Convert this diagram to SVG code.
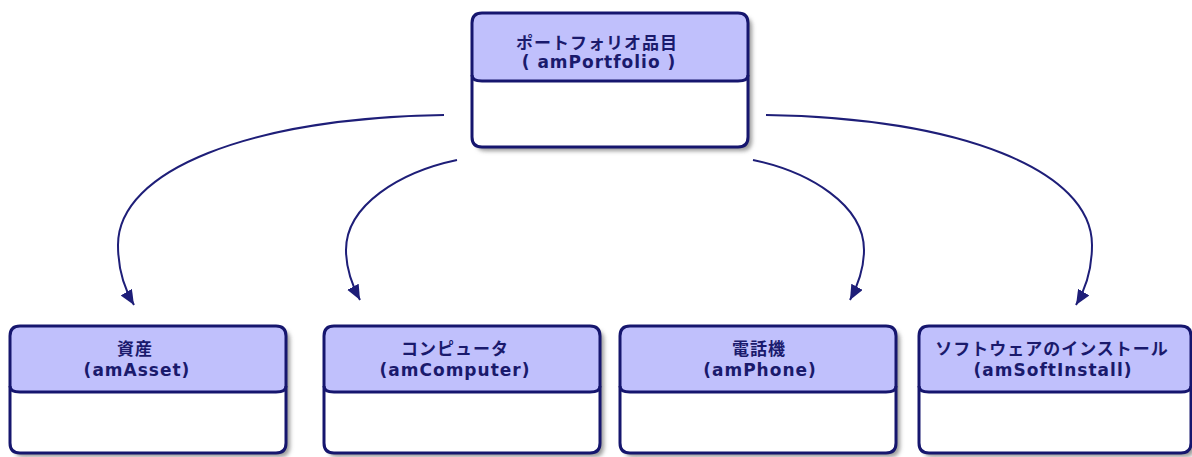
<svg xmlns="http://www.w3.org/2000/svg" width="1192" height="457" viewBox="0 0 1192 457">
  <style>
    .bg { fill: #ffffff; filter: url(#shadow); }
    .hdr { fill: #c0c0fc; }
    .line { fill: none; stroke: #16166e; stroke-width: 3; stroke-linejoin: round; }
    .t { font-family: "DejaVu Sans", "Noto Sans CJK JP", sans-serif; font-size: 17px; font-weight: bold; fill: #1a1a6c; text-anchor: middle; letter-spacing: 1px; }
    .conn { fill: none; stroke: #1e1e78; stroke-width: 2; marker-end: url(#arrow); }
  </style>
  <defs>
    <filter id="shadow" x="-10%" y="-10%" width="130%" height="130%">
      <feDropShadow dx="4" dy="4" stdDeviation="2" flood-color="#777777" flood-opacity="0.75"/>
    </filter>
    <marker id="arrow" markerUnits="userSpaceOnUse" markerWidth="16" markerHeight="14" refX="15" refY="6.5" orient="auto">
      <path d="M0,0 L15,6.5 L0,13 Z" fill="#1e1e78"/>
    </marker>
  </defs>

  <g id="connectors">
    <path class="conn" d="M444,115 C250,118 118,170 118,245 C118,270 125,290 134,305"/>
    <path class="conn" d="M457,160 C400,172 346,205 346,250 C346,268 352,285 360,300"/>
    <path class="conn" d="M753,160 C810,172 864,205 864,250 C864,268 858,285 850,300"/>
    <path class="conn" d="M766,115 C960,118 1092,170 1092,245 C1092,270 1085,290 1076,305"/>
  </g>

  <g id="amPortfolio" transform="translate(472,13)">
    <path class="bg" d="M10,0 H266 Q276,0 276,10 V124 Q276,134 266,134 H10 Q0,134 0,124 V10 Q0,0 10,0 Z"/>
    <path class="hdr" d="M0,10 Q0,0 10,0 H266 Q276,0 276,10 V62 Q276,68 266,68 H10 Q0,68 0,62 Z"/>
    <path class="line" d="M0,62 Q0,68 10,68 H266 Q276,68 276,62"/>
    <path class="line" d="M10,0 H266 Q276,0 276,10 V124 Q276,134 266,134 H10 Q0,134 0,124 V10 Q0,0 10,0 Z"/>
    <text class="t" x="125" y="36">ポートフォリオ品目</text>
    <text class="t" x="127" y="55">( amPortfolio )</text>
  </g>

  <g id="amAsset" transform="translate(10,326)">
    <path class="bg" d="M10,0 H266 Q276,0 276,10 V117 Q276,127 266,127 H10 Q0,127 0,117 V10 Q0,0 10,0 Z"/>
    <path class="hdr" d="M0,10 Q0,0 10,0 H266 Q276,0 276,10 V60 Q276,66 266,66 H10 Q0,66 0,60 Z"/>
    <path class="line" d="M0,60 Q0,66 10,66 H266 Q276,66 276,60"/>
    <path class="line" d="M10,0 H266 Q276,0 276,10 V117 Q276,127 266,127 H10 Q0,127 0,117 V10 Q0,0 10,0 Z"/>
    <text class="t" x="125" y="29">資産</text>
    <text class="t" x="127" y="50">(amAsset)</text>
  </g>

  <g id="amComputer" transform="translate(324,326)">
    <path class="bg" d="M10,0 H266 Q276,0 276,10 V117 Q276,127 266,127 H10 Q0,127 0,117 V10 Q0,0 10,0 Z"/>
    <path class="hdr" d="M0,10 Q0,0 10,0 H266 Q276,0 276,10 V60 Q276,66 266,66 H10 Q0,66 0,60 Z"/>
    <path class="line" d="M0,60 Q0,66 10,66 H266 Q276,66 276,60"/>
    <path class="line" d="M10,0 H266 Q276,0 276,10 V117 Q276,127 266,127 H10 Q0,127 0,117 V10 Q0,0 10,0 Z"/>
    <text class="t" x="131" y="29">コンピュータ</text>
    <text class="t" x="131" y="50">(amComputer)</text>
  </g>

  <g id="amPhone" transform="translate(620,326)">
    <path class="bg" d="M10,0 H266 Q276,0 276,10 V117 Q276,127 266,127 H10 Q0,127 0,117 V10 Q0,0 10,0 Z"/>
    <path class="hdr" d="M0,10 Q0,0 10,0 H266 Q276,0 276,10 V60 Q276,66 266,66 H10 Q0,66 0,60 Z"/>
    <path class="line" d="M0,60 Q0,66 10,66 H266 Q276,66 276,60"/>
    <path class="line" d="M10,0 H266 Q276,0 276,10 V117 Q276,127 266,127 H10 Q0,127 0,117 V10 Q0,0 10,0 Z"/>
    <text class="t" x="139" y="29">電話機</text>
    <text class="t" x="140" y="50">(amPhone)</text>
  </g>

  <g id="amSoftInstall" transform="translate(919,326)">
    <path class="bg" d="M10,0 H262 Q272,0 272,10 V117 Q272,127 262,127 H10 Q0,127 0,117 V10 Q0,0 10,0 Z"/>
    <path class="hdr" d="M0,10 Q0,0 10,0 H262 Q272,0 272,10 V60 Q272,66 262,66 H10 Q0,66 0,60 Z"/>
    <path class="line" d="M0,60 Q0,66 10,66 H262 Q272,66 272,60"/>
    <path class="line" d="M10,0 H262 Q272,0 272,10 V117 Q272,127 262,127 H10 Q0,127 0,117 V10 Q0,0 10,0 Z"/>
    <text class="t" x="133" y="29">ソフトウェアのインストール</text>
    <text class="t" x="134" y="50">(amSoftInstall)</text>
  </g>
</svg>
